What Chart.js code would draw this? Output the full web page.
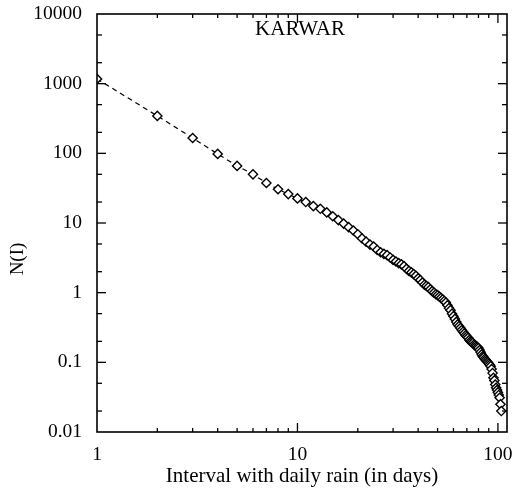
<!DOCTYPE html>
<html>
<head>
<meta charset="utf-8">
<script src="https://cdn.jsdelivr.net/npm/chart.js@4.4.1/dist/chart.umd.min.js"></script>
<style>
html,body{margin:0;padding:0;background:#fff;}
canvas{display:block;}
</style>
</head>
<body>
<canvas id="c" width="515" height="489"></canvas>
<script>
// ---- data ----
const stationName = 'KARWAR';
const intervalDays = [1,2,3,4,5,6,7,8,9,10,11,12,13,14,15,16,17,18,19,20,
  21,22,23,24,25,26,27,28,29,30,31,32,33,34,35,36,37,38,39,40,
  41,42,43,44,45,46,47,48,49,50,51,52,53,54,55,56,57,58,59,60,
  61,62,63,64,65,66,67,68,69,70,71,72,73,74,75,76,77,78,79,80,
  81,82,83,84,85,86,87,88,89,90,91,92,93,94,95,96,97,98,99,100,
  101,102,103,104];
const countN = [1170,344,166,98,66,50,37.5,30.5,26,22.5,20,17.5,16,14.2,12.5,11,9.8,8.7,7.8,6.9,
  6.0,5.4,4.9,4.6,4.1,3.8,3.6,3.45,3.2,2.95,2.8,2.65,2.55,2.4,2.2,2.05,1.95,1.85,1.75,1.6,
  1.52,1.4,1.3,1.25,1.2,1.12,1.05,1.0,0.95,0.92,0.88,0.84,0.8,0.76,0.72,0.66,0.6,0.56,0.5,0.46,
  0.42,0.38,0.35,0.33,0.31,0.29,0.275,0.26,0.245,0.235,0.225,0.21,0.2,0.195,0.19,0.18,0.175,0.17,0.165,0.16,
  0.15,0.14,0.13,0.122,0.118,0.112,0.108,0.104,0.1,0.096,0.092,0.088,0.08,0.07,0.06,0.055,0.048,0.043,0.04,0.037,
  0.034,0.031,0.025,0.02];
const xTickLabels = [1,10,100];
const yTickLabels = [0.01,0.1,1,10,100,1000,10000];
const xMinorSteps = [2,3,4,5,6,7,8,9];
const yMinorSteps = [2,5];
const xRange = [1,111];
const yRange = [0.01,10000];

const FONT = '"Liberation Serif", "Times New Roman", serif';

const framePlugin = {
  id: 'frame',
  afterDraw(chart) {
    const {ctx, chartArea: a, scales: {x, y}} = chart;
    ctx.save();
    ctx.strokeStyle = '#000';
    ctx.lineWidth = 1.6;
    ctx.strokeRect(a.left, a.top, a.right - a.left, a.bottom - a.top);
    ctx.lineWidth = 1.3;
    const line = (x1, y1, x2, y2) => { ctx.beginPath(); ctx.moveTo(x1, y1); ctx.lineTo(x2, y2); ctx.stroke(); };
    xTickLabels.forEach(dec => {
      [1].concat(xMinorSteps).forEach(m => {
        const v = dec * m;
        if (v <= x.min || v >= x.max) return;
        const px = x.getPixelForValue(v);
        const len = m === 1 ? 9 : 4;
        line(px, a.bottom, px, a.bottom - len);
        line(px, a.top, px, a.top + len);
      });
    });
    yTickLabels.forEach(dec => {
      [1].concat(yMinorSteps).forEach(m => {
        const v = dec * m;
        if (v <= y.min || v >= y.max) return;
        const py = y.getPixelForValue(v);
        const len = m === 1 ? 9 : 5;
        line(a.left, py, a.left + len, py);
        line(a.right, py, a.right - len, py);
      });
    });
    ctx.fillStyle = '#000';
    ctx.font = '21px ' + FONT;
    ctx.textAlign = 'center';
    ctx.textBaseline = 'middle';
    ctx.fillText(stationName, 300, 29);
    ctx.translate(18, 259);
    ctx.rotate(-Math.PI / 2);
    ctx.font = '19px ' + FONT;
    ctx.fillText('N(I)', 0, 0);
    ctx.restore();
  }
};

new Chart(document.getElementById('c'), {
  type: 'line',
  data: {
    datasets: [{
      data: intervalDays.map((d, i) => ({x: d, y: countN[i]})),
      borderColor: '#000',
      borderWidth: 1.2,
      borderDash: [5, 4],
      pointStyle: 'rectRot',
      pointRadius: 4.6,
      pointBorderWidth: 1.4,
      pointBackgroundColor: '#fff',
      pointBorderColor: '#000',
      tension: 0
    }]
  },
  options: {
    responsive: false,
    animation: false,
    layout: {padding: {left: 0, right: 8, top: 14, bottom: 0}},
    plugins: {legend: {display: false}, tooltip: {enabled: false}},
    scales: {
      x: {
        type: 'logarithmic',
        min: xRange[0], max: xRange[1],
        grid: {display: false, drawTicks: false},
        border: {display: false},
        afterBuildTicks: s => { s.ticks = xTickLabels.map(v => ({value: v})); },
        afterFit: s => { s.height = 57; s.paddingLeft = 0; s.paddingRight = 0; },
        ticks: {color: '#000', font: {family: FONT, size: 19.5}, padding: 11, maxRotation: 0, autoSkip: false,
          callback: v => String(v)},
        title: {display: true, text: 'Interval with daily rain (in days)', color: '#000',
          font: {family: FONT, size: 21}, padding: {top: 0, bottom: 0}}
      },
      y: {
        type: 'logarithmic',
        min: yRange[0], max: yRange[1],
        grid: {display: false, drawTicks: false},
        border: {display: false},
        afterBuildTicks: s => { s.ticks = yTickLabels.map(v => ({value: v})); },
        afterFit: s => { s.width = 97; s.paddingTop = 0; s.paddingBottom = 0; },
        ticks: {color: '#000', font: {family: FONT, size: 19.5}, padding: 15, autoSkip: false,
          callback: v => String(v)}
      }
    }
  },
  plugins: [framePlugin]
});
</script>
</body>
</html>
